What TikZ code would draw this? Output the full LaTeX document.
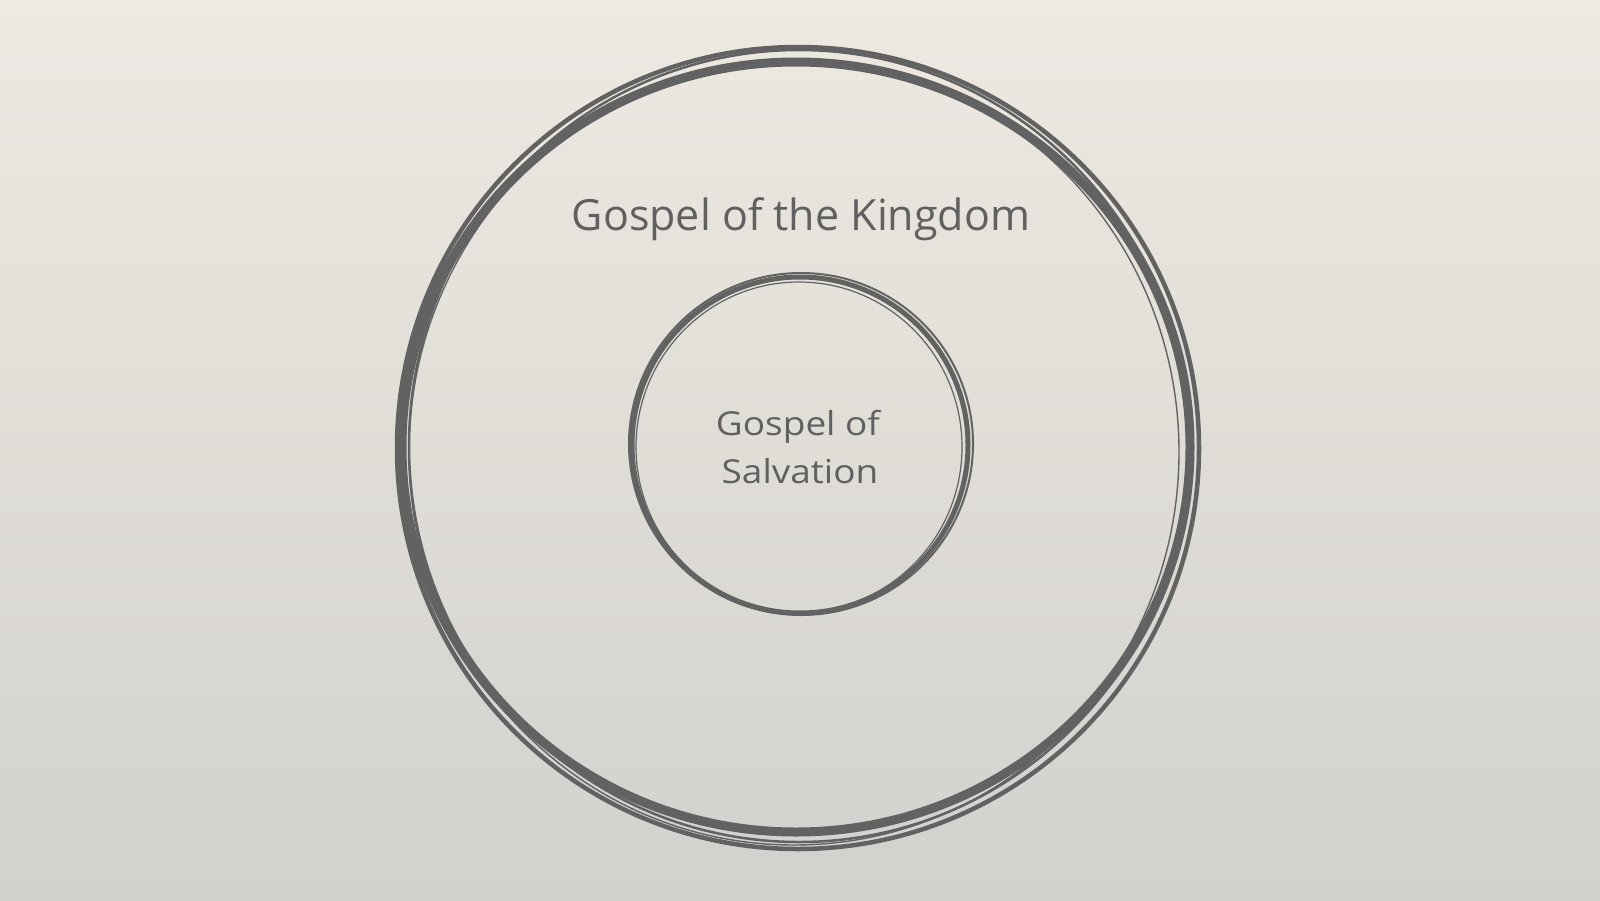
\documentclass[tikz,border=0pt]{standalone}
\usepackage{fontspec}
\setmainfont{Open Sans}
\begin{document}
\begin{tikzpicture}[x=1pt,y=-1pt,
  ring/.style={draw=ringgrey, line cap=round},
  label/.style={text=textgrey, inner sep=0pt, align=center}]
\definecolor{ringgrey}{RGB}{98,98,98}
\definecolor{textgrey}{RGB}{96,96,96}
\definecolor{bgtop}{RGB}{238,233,225}
\definecolor{bgbot}{RGB}{210,209,206}
\useasboundingbox (0,0) rectangle (1600,900);
\shade[top color=bgtop, bottom color=bgbot] (0,0) rectangle (1600,900);
% outer ring strokes
\draw[ring, line width=9pt] (796,447) ellipse [x radius=394, y radius=385];
\draw[ring, line width=4.5pt] (798,448) ellipse [x radius=401, y radius=401];
\draw[ring, line width=1.4pt] (794,452) ellipse [x radius=385, y radius=393];
\draw[ring, line width=2.5pt] (799,446) ellipse [x radius=390, y radius=396];
% inner ring strokes
\draw[ring, line width=5pt] (800,445) ellipse [x radius=168, y radius=168];
\draw[ring, line width=2pt] (801,444) ellipse [x radius=172, y radius=171];
\draw[ring, line width=1.2pt] (799,447) ellipse [x radius=163, y radius=165];
% labels
\node[label, font=\fontsize{43}{48}\selectfont, anchor=base] (kingdom) at (801,230) {Gospel of the Kingdom};
\node[label, font=\fontsize{33}{48}\selectfont, anchor=base, xscale=1.12] (gos) at (798,435) {Gospel of};
\node[label, font=\fontsize{33}{48}\selectfont, anchor=base, xscale=1.12] (salv) at (800,483) {Salvation};
\end{tikzpicture}
\end{document}
